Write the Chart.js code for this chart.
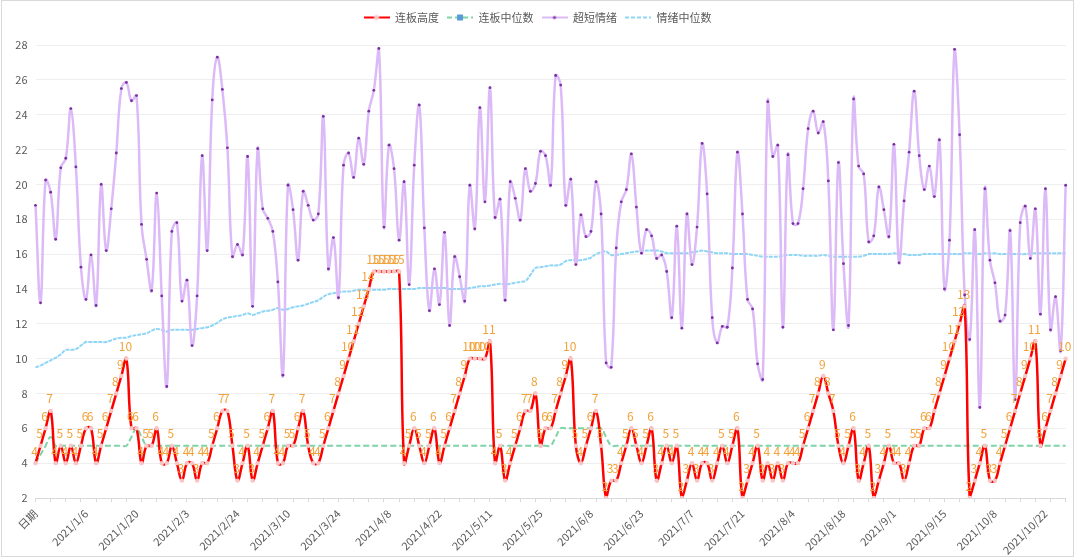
<!DOCTYPE html>
<html>
<head>
<meta charset="utf-8">
<script src="https://cdn.jsdelivr.net/npm/chart.js@4.4.0/dist/chart.umd.min.js"></script>
<style>
  html, body { margin: 0; padding: 0; background: #fff; }
  #box { width: 1080px; height: 558px; }
</style>
</head>
<body>
<div id="box"><canvas id="chartCanvas"></canvas></div>
<script>
// x categories (first cell is the header "日期", as in the source sheet)
const categories = ['日期',
'2020/12/23','2020/12/24','2020/12/25','2020/12/28','2020/12/29','2020/12/30','2020/12/31','2021/1/4','2021/1/5',
'2021/1/6','2021/1/7','2021/1/8','2021/1/11','2021/1/12','2021/1/13','2021/1/14','2021/1/15','2021/1/18','2021/1/19',
'2021/1/20','2021/1/21','2021/1/22','2021/1/25','2021/1/26','2021/1/27','2021/1/28','2021/1/29','2021/2/1','2021/2/2',
'2021/2/3','2021/2/4','2021/2/5','2021/2/8','2021/2/9','2021/2/10','2021/2/18','2021/2/19','2021/2/22','2021/2/23',
'2021/2/24','2021/2/25','2021/2/26','2021/3/1','2021/3/2','2021/3/3','2021/3/4','2021/3/5','2021/3/8','2021/3/9',
'2021/3/10','2021/3/11','2021/3/12','2021/3/15','2021/3/16','2021/3/17','2021/3/18','2021/3/19','2021/3/22','2021/3/23',
'2021/3/24','2021/3/25','2021/3/26','2021/3/29','2021/3/30','2021/3/31','2021/4/1','2021/4/2','2021/4/6','2021/4/7',
'2021/4/8','2021/4/9','2021/4/12','2021/4/13','2021/4/14','2021/4/15','2021/4/16','2021/4/19','2021/4/20','2021/4/21',
'2021/4/22','2021/4/23','2021/4/26','2021/4/27','2021/4/28','2021/4/29','2021/4/30','2021/5/6','2021/5/7','2021/5/10',
'2021/5/11','2021/5/12','2021/5/13','2021/5/14','2021/5/17','2021/5/18','2021/5/19','2021/5/20','2021/5/21','2021/5/24',
'2021/5/25','2021/5/26','2021/5/27','2021/5/28','2021/5/31','2021/6/1','2021/6/2','2021/6/3','2021/6/4','2021/6/7',
'2021/6/8','2021/6/9','2021/6/10','2021/6/11','2021/6/15','2021/6/16','2021/6/17','2021/6/18','2021/6/21','2021/6/22',
'2021/6/23','2021/6/24','2021/6/25','2021/6/28','2021/6/29','2021/6/30','2021/7/1','2021/7/2','2021/7/5','2021/7/6',
'2021/7/7','2021/7/8','2021/7/9','2021/7/12','2021/7/13','2021/7/14','2021/7/15','2021/7/16','2021/7/19','2021/7/20',
'2021/7/21','2021/7/22','2021/7/23','2021/7/26','2021/7/27','2021/7/28','2021/7/29','2021/7/30','2021/8/2','2021/8/3',
'2021/8/4','2021/8/5','2021/8/6','2021/8/9','2021/8/10','2021/8/11','2021/8/12','2021/8/13','2021/8/16','2021/8/17',
'2021/8/18','2021/8/19','2021/8/20','2021/8/23','2021/8/24','2021/8/25','2021/8/26','2021/8/27','2021/8/30','2021/8/31',
'2021/9/1','2021/9/2','2021/9/3','2021/9/6','2021/9/7','2021/9/8','2021/9/9','2021/9/10','2021/9/13','2021/9/14',
'2021/9/15','2021/9/16','2021/9/17','2021/9/22','2021/9/23','2021/9/24','2021/9/27','2021/9/28','2021/9/29','2021/9/30',
'2021/10/8','2021/10/11','2021/10/12','2021/10/13','2021/10/14','2021/10/15','2021/10/18','2021/10/19','2021/10/20','2021/10/21',
'2021/10/22','2021/10/25','2021/10/26','2021/10/27','2021/10/28'];

// 连板高度
const lianbanHeight = [
4,5,6,7,4,5,4,5,4,5, 6,6,4,5,6,7,8,9,10,6, 6,4,5,5,6,4,4,5,4,3, 4,4,3,4,4,5,6,7,7,5,
3,4,5,3,4,5,6,7,4,4, 5,5,6,7,5,4,4,5,6,7, 8,9,10,11,12,13,14,15,15,15, 15,15,15,4,5,6,5,4,5,6,
4,5,6,7,8,9,10,10,10,10, 11,4,5,3,4,5,6,7,7,8, 5,6,6,7,8,9,10,5,4,5, 6,7,5,2,3,3,4,5,6,5,
4,5,6,3,4,5,4,5,2,3, 4,3,4,4,3,4,5,4,5,6, 2,3,4,5,3,4,3,4,3,4, 4,4,5,6,7,8,9,8,7,5,
4,5,6,3,4,5,2,3,4,5, 4,4,3,4,5,5,6,6,7,8, 9,10,11,12,13,2,3,4,5,3, 3,4,5,6,7,8,9,10,11,5,
6,7,8,9,10];

// 连板中位数
const lianbanMedian = [
4,4.5,5,5.5,5,5,5,5,5,5, 5,5,5,5,5,5,5,5,5,5.5, 6,5.5,5,5,5,5,5,5,5,5, 5,5,5,5,5,5,5,5,5,5,
5,5,5,5,5,5,5,5,5,5, 5,5,5,5,5,5,5,5,5,5, 5,5,5,5,5,5,5,5,5,5, 5,5,5,5,5,5,5,5,5,5,
5,5,5,5,5,5,5,5,5,5, 5,5,5,5,5,5,5,5,5,5, 5,5,5,5.5,6,6,6,6,6,6, 6,6,6,5.5,5,5,5,5,5,5,
5,5,5,5,5,5,5,5,5,5, 5,5,5,5,5,5,5,5,5,5, 5,5,5,5,5,5,5,5,5,5, 5,5,5,5,5,5,5,5,5,5,
5,5,5,5,5,5,5,5,5,5, 5,5,5,5,5,5,5,5,5,5, 5,5,5,5,5,5,5,5,5,5, 5,5,5,5,5,5,5,5,5,5,
5,5,5,5,5];

// 超短情绪
const emotion = [
18.8,13.2,20.25,19.55,16.85,20.95,21.5,24.35,21.0,15.25, 13.4,15.95,13.05,20.0,16.2,18.6,21.8,25.5,25.85,24.8,
25.1,17.7,15.7,13.9,19.5,13.6,8.4,17.3,17.8,13.3, 14.5,10.75,13.6,21.65,16.2,24.85,27.3,25.45,22.1,15.85,
16.55,15.95,21.6,13.0,22.05,18.6,18.05,17.3,14.4,9.05, 19.95,18.55,15.65,19.6,18.8,17.95,18.3,23.9,15.15,16.95,
13.5,21.1,21.8,20.4,22.65,21.15,24.2,25.4,27.8,17.55, 22.25,20.9,16.8,20.15,14.25,21.1,24.55,17.5,12.75,15.15,
13.1,17.25,11.9,15.85,14.7,13.3,19.95,17.45,24.4,19.0, 25.55,18.1,19.15,13.35,20.15,19.2,17.95,20.9,19.6,20.05,
21.9,21.65,19.95,26.25,25.7,18.8,20.3,15.4,18.25,17.0, 17.3,20.15,18.3,9.75,9.5,16.35,19.0,19.7,21.75,18.7,
16.05,17.4,17.05,15.75,15.95,15.0,12.35,17.6,11.75,18.3, 15.4,17.55,22.35,19.45,12.35,10.9,11.85,11.8,15.2,21.85,
18.3,13.4,12.85,9.7,8.8,24.75,21.6,22.25,11.8,21.7, 17.75,17.75,19.75,23.2,24.2,22.95,23.6,20.2,11.65,21.25,
15.45,11.9,24.9,21.05,20.6,16.7,17.05,19.85,18.55,17.0, 22.3,15.5,19.05,21.85,25.35,21.65,19.7,21.05,19.3,22.55,
14.0,16.8,27.75,22.85,13.65,11.1,17.4,7.2,19.75,15.65, 14.35,12.15,12.5,17.35,7.65,17.8,18.75,15.75,18.6,12.55,
19.75,11.65,13.55,10.45,19.95];

// 情绪中位数
const emotionMedian = [
9.5,9.6,9.75,9.9,10.05,10.25,10.5,10.5,10.55,10.75, 10.95,10.95,10.95,10.95,10.95,11.05,11.15,11.2,11.2,11.3,
11.35,11.4,11.45,11.6,11.7,11.65,11.55,11.65,11.65,11.65, 11.65,11.65,11.7,11.75,11.8,11.9,12.05,12.25,12.35,12.4,
12.45,12.5,12.6,12.5,12.6,12.7,12.75,12.8,12.9,12.8, 12.85,12.95,13.0,13.05,13.15,13.25,13.35,13.55,13.7,13.75,
13.8,13.85,13.85,13.9,13.95,13.95,13.95,13.95,13.95,13.95, 14.0,14.0,14.0,14.0,14.0,14.0,14.05,14.05,14.05,14.05,
14.05,14.05,14.0,14.0,14.0,14.0,14.05,14.1,14.15,14.15, 14.2,14.25,14.3,14.25,14.3,14.35,14.4,14.45,14.8,15.2,
15.25,15.3,15.35,15.35,15.4,15.6,15.65,15.65,15.65,15.7, 15.8,16.0,16.1,16.15,15.95,15.95,16.0,16.05,16.1,16.15,
16.15,16.2,16.2,16.2,16.15,16.05,16.05,16.05,16.05,16.05, 16.1,16.15,16.2,16.15,16.1,16.05,16.05,16.05,16.0,16.0,
16.0,16.0,15.95,15.9,15.85,15.85,15.85,15.85,15.9,15.95, 15.95,15.95,15.9,15.9,15.9,15.9,15.95,15.9,15.85,15.85,
15.85,15.85,15.85,15.85,15.9,16.0,16.0,16.0,16.0,16.0, 16.05,16.0,16.0,15.95,15.95,15.95,16.0,16.0,16.0,16.0,
16.0,16.0,16.0,16.0,16.05,16.05,16.05,16.0,16.05,16.05, 16.05,16.0,16.0,16.0,16.0,16.0,16.0,16.05,16.05,16.05,
16.05,16.05,16.05,16.05,16.05];

const yMin = 2, yMax = 28, yStep = 2;

const FONT = '"Noto Sans CJK SC", "Noto Sans", sans-serif';
const TEXT = '#595959';
Chart.defaults.font.family = FONT;
Chart.defaults.color = TEXT;

// little legend pictures: line sample with the series marker
function legendIcon(color, dash, drawMarker) {
    const c = document.createElement('canvas');
    c.width = 26;
    c.height = 10;
    const g = c.getContext('2d');
    g.strokeStyle = color;
    g.lineWidth = 2;
    g.setLineDash(dash);
    g.beginPath();
    g.moveTo(0, 5);
    g.lineTo(26, 5);
    g.stroke();
    if (drawMarker) drawMarker(g);
    return c;
}
const icons = [
    legendIcon('#ff0000', [], g => { g.fillStyle = '#f9c4c4'; g.beginPath(); g.arc(13, 5, 2.5, 0, Math.PI * 2); g.fill(); }),
    legendIcon('#7ed4a6', [5, 3], g => { g.fillStyle = '#5b9bd5'; g.fillRect(10, 2, 6, 6); }),
    legendIcon('#dcbaf7', [], g => { g.fillStyle = '#7a2fa0'; g.beginPath(); g.arc(13, 5, 1.6, 0, Math.PI * 2); g.fill(); }),
    legendIcon('#8fd5f6', [4, 2], null)
];

// extra room between the legend and the plot
const legendGap = {
    id: 'legendGap',
    beforeInit(chart) {
        const fit = chart.legend.fit;
        chart.legend.fit = function () {
            fit.call(this);
            this.height += 12;
        };
    }
};

// numbers above the 连板高度 points
const pointLabels = {
    id: 'pointLabels',
    afterDatasetsDraw(chart) {
        const meta = chart.getDatasetMeta(0);
        const ctx = chart.ctx;
        ctx.save();
        ctx.font = '12px ' + FONT;
        ctx.fillStyle = '#f2a23a';
        ctx.textAlign = 'center';
        ctx.textBaseline = 'bottom';
        meta.data.forEach((pt, i) => {
            ctx.fillText(String(lianbanHeight[i]), pt.x - 1, pt.y - 6);
        });
        ctx.restore();
    }
};

// white sheet with thin grey frame
const frame = {
    id: 'frame',
    beforeDraw(chart) {
        const ctx = chart.ctx;
        ctx.save();
        ctx.fillStyle = '#ffffff';
        ctx.fillRect(0, 0, chart.width, chart.height);
        ctx.strokeStyle = '#d9d9d9';
        ctx.lineWidth = 1;
        ctx.strokeRect(1.5, 0.5, 1072, 556);
        ctx.restore();
    }
};

const chartData = {
    labels: categories,
    datasets: [
        {
            label: '连板高度',
            data: lianbanHeight,
            borderColor: '#ff0000',
            borderWidth: 2.5,
            tension: 0.4,
            pointRadius: 2.2,
            pointBorderWidth: 0,
            pointBackgroundColor: '#f9c4c4'
        },
        {
            label: '连板中位数',
            data: lianbanMedian,
            borderColor: '#7ed4a6',
            borderWidth: 2,
            borderDash: [6, 3],
            tension: 0.4,
            pointRadius: 0
        },
        {
            label: '超短情绪',
            data: emotion,
            borderColor: '#dcbaf7',
            borderWidth: 2.5,
            tension: 0.4,
            pointRadius: 1.4,
            pointBorderWidth: 0,
            pointBackgroundColor: '#7a2fa0'
        },
        {
            label: '情绪中位数',
            data: emotionMedian,
            borderColor: '#8fd5f6',
            borderWidth: 2,
            borderDash: [4, 1],
            tension: 0.4,
            pointRadius: 0
        }
    ]
};

const chartOptions = {
    responsive: true,
    maintainAspectRatio: false,
    animation: false,
    layout: { padding: { top: 4, right: 5, left: 0, bottom: 0 } },
    plugins: {
        tooltip: { enabled: false },
        legend: {
            position: 'top',
            labels: {
                usePointStyle: true,
                pointStyleWidth: 26,
                boxHeight: 10,
                padding: 8,
                color: TEXT,
                font: { size: 11 },
                generateLabels: chart => chart.data.datasets.map((ds, i) => ({
                    text: ds.label,
                    pointStyle: icons[i],
                    datasetIndex: i,
                    fontColor: TEXT,
                    lineWidth: 0,
                    strokeStyle: 'rgba(0,0,0,0)',
                    fillStyle: 'rgba(0,0,0,0)'
                }))
            }
        }
    },
    scales: {
        x: {
            offset: false,
            border: { display: true, color: '#d9d9d9' },
            grid: {
                display: true,
                drawOnChartArea: false,
                drawTicks: true,
                tickLength: 4,
                color: ctx => (ctx.index % 3 === 0 ? '#d9d9d9' : 'rgba(0,0,0,0)')
            },
            ticks: {
                autoSkip: false,
                minRotation: 45,
                maxRotation: 45,
                padding: 5,
                color: TEXT,
                font: { size: 11 },
                callback: (v, i) => (i % 10 === 0 ? categories[i] : '')
            },
            afterFit: s => { s.height = 60; }
        },
        y: {
            min: yMin,
            max: yMax,
            border: { display: false },
            grid: { color: '#eeeeee', drawTicks: false },
            ticks: { stepSize: yStep, padding: 8, color: TEXT, font: { size: 11 } },
            afterFit: s => { s.width = 35.5; }
        }
    }
};

const canvas = document.getElementById('chartCanvas');
new Chart(canvas, {
    type: 'line',
    data: chartData,
    options: chartOptions,
    plugins: [legendGap, frame, pointLabels]
});
</script>
</body>
</html>
